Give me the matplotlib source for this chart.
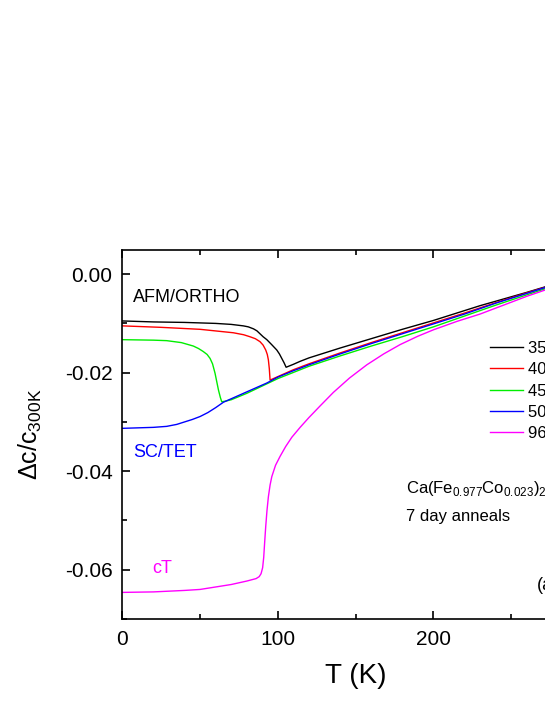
import matplotlib
matplotlib.use('Agg')
import matplotlib.pyplot as plt
from matplotlib.ticker import MultipleLocator, FormatStrFormatter

plt.rcParams['font.family'] = ['Liberation Sans', 'DejaVu Sans']
plt.rcParams['axes.unicode_minus'] = False

# data (T in K, dc/c300K)
T_350 = [0, 20, 40, 60, 70, 77.8, 81, 84.3, 86.5, 88.5, 90.5, 92.9, 96, 99.3, 101, 102.5,
         104, 105.3, 110, 114.3, 120, 130, 140, 160, 180, 200, 220, 230, 240, 260, 280, 300]
y_350 = [-0.0095, -0.0097, -0.0098, -0.0100, -0.0102, -0.0105, -0.0107, -0.0111, -0.0115,
         -0.0121, -0.0127, -0.0133, -0.0143, -0.0154, -0.0162, -0.0171, -0.0180, -0.0189,
         -0.0183, -0.0177, -0.0170, -0.0160, -0.0150, -0.0131, -0.0112, -0.0094, -0.0074,
         -0.0064, -0.0055, -0.0037, -0.0018, 0.0]

T_400 = [0, 25, 50, 71.4, 78, 82, 85.5, 88.5, 90.5, 92.2, 93.2, 93.9, 94.5, 95, 100, 105.7,
         110, 120, 140, 160, 180, 200, 220, 240, 260, 280, 300]
y_400 = [-0.0105, -0.0108, -0.0112, -0.0119, -0.0123, -0.0127, -0.0131, -0.0137, -0.0144,
         -0.0154, -0.0163, -0.0174, -0.0192, -0.0215, -0.0208, -0.0200, -0.0194, -0.0182,
         -0.0160, -0.0139, -0.0119, -0.0099, -0.0079, -0.0058, -0.0038, -0.0019, 0.0]

T_450 = [0, 20, 28.5, 38, 45.7, 49, 52, 54.5, 56.4, 58, 59.6, 61.8, 63, 63.9, 66, 70, 80,
         90, 100, 120, 140, 160, 180, 200, 220, 240, 260, 280, 300]
y_450 = [-0.0133, -0.0134, -0.0135, -0.0139, -0.0146, -0.0151, -0.0157, -0.0163, -0.0171,
         -0.0182, -0.0201, -0.0235, -0.0250, -0.0259, -0.0258, -0.0255, -0.0242, -0.0227,
         -0.0212, -0.0187, -0.0166, -0.0146, -0.0127, -0.0107, -0.0085, -0.0063, -0.0042,
         -0.0021, 0.0]

T_500 = [0, 10, 20, 28.5, 35, 40, 45, 50, 55, 60, 65, 70, 80, 92.9, 100, 110, 114.3, 120,
         130, 140, 160, 180, 200, 220, 240, 260, 280, 300]
y_500 = [-0.0313, -0.0312, -0.0311, -0.0309, -0.0305, -0.0300, -0.0295, -0.0289, -0.0281,
         -0.0271, -0.0260, -0.0253, -0.0239, -0.0221, -0.0209, -0.0196, -0.0191, -0.0184,
         -0.0173, -0.0162, -0.0141, -0.0121, -0.0101, -0.0081, -0.0059, -0.0039, -0.0019, 0.0]

T_960 = [0, 20, 40, 50, 60, 70, 80, 86, 88, 89.2, 90.2, 90.9, 91.5, 92.2, 93, 93.9, 95,
         96.1, 98.5, 101.4, 105, 109, 114.3, 120, 127, 135.7, 146, 157.2, 168, 178.6, 190,
         200, 215, 230, 245, 260, 272, 285, 300]
y_960 = [-0.0646, -0.0645, -0.0642, -0.0640, -0.0635, -0.0630, -0.0623, -0.0618, -0.0614,
         -0.0608, -0.0596, -0.0575, -0.0545, -0.0512, -0.0480, -0.0452, -0.0428, -0.0411,
         -0.0388, -0.0370, -0.0350, -0.0331, -0.0311, -0.0291, -0.0268, -0.0240, -0.0211,
         -0.0184, -0.0162, -0.0143, -0.0126, -0.0113, -0.0096, -0.0081, -0.0063, -0.0045,
         -0.0032, -0.0016, 0.0]

series = [
    (T_350, y_350, '350 °C', '#000000'),
    (T_400, y_400, '400 °C', '#ff0000'),
    (T_450, y_450, '450 °C', '#00ee00'),
    (T_500, y_500, '500 °C', '#0000ff'),
    (T_960, y_960, '960 °C', '#ff00ff'),
]

fig = plt.figure(figsize=(5.45, 7.05), dpi=100)
ax = fig.add_axes([122.3 / 545, 86 / 705, 466.7 / 545, 369 / 705])

for T, y, lab, col in series:
    ax.plot(T, y, color=col, lw=1.0, label=lab)

ax.set_xlim(0, 300)
ax.set_ylim(-0.07, 0.0049)
ax.xaxis.set_major_locator(MultipleLocator(100))
ax.xaxis.set_minor_locator(MultipleLocator(50))
ax.yaxis.set_major_locator(MultipleLocator(0.02))
ax.yaxis.set_minor_locator(MultipleLocator(0.01))
ax.yaxis.set_major_formatter(FormatStrFormatter('%.2f'))

ax.tick_params(which='both', direction='in', top=True, right=True, width=1.2)
ax.tick_params(which='major', length=6, labelsize=15, pad=7)
ax.tick_params(which='minor', length=3.5)
ax.tick_params(axis='x', which='major', pad=8)
for s in ax.spines.values():
    s.set_linewidth(1.2)

ax.set_xlabel('T (K)', fontsize=20, labelpad=10)
ax.set_ylabel('Δc/c$_\\mathregular{300K}$', fontsize=18, labelpad=15)

ax.text(6.9, -0.0056, 'AFM/ORTHO', fontsize=13, color='black', va='baseline')
ax.text(7.0, -0.0372, 'SC/TET', fontsize=13, color='#0000ff', va='baseline')
ax.text(19.3, -0.0607, 'cT', fontsize=13, color='#ff00ff', va='baseline')
ax.text(182.5, -0.0445, 'Ca(Fe$_\\mathregular{0.977}$Co$_\\mathregular{0.023}$)$_\\mathregular{2}$As$_\\mathregular{2}$',
        fontsize=12, va='baseline')
ax.text(182.5, -0.0501, '7 day anneals', fontsize=12, va='baseline')
ax.text(266.8, -0.0641, '(a)', fontsize=13, va='baseline')

ax.legend(loc='upper left', bbox_to_anchor=(490 / 545, 1 - 341 / 705),
          bbox_transform=fig.transFigure, frameon=False, fontsize=12,
          borderpad=0, borderaxespad=0, handlelength=2.0, handletextpad=0.3,
          labelspacing=0.38)

fig.savefig('out.png', dpi=100)
